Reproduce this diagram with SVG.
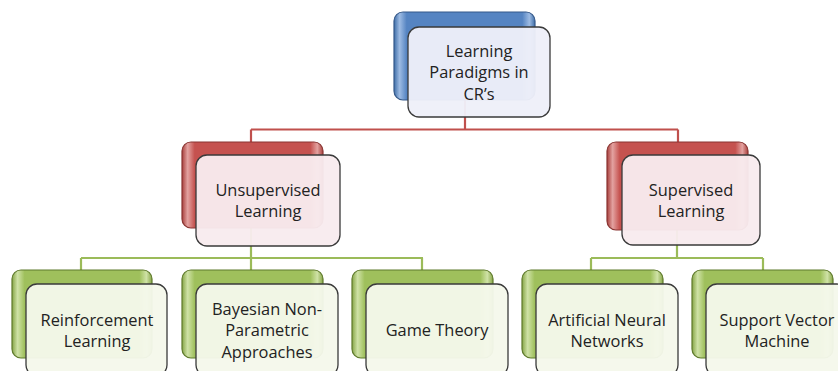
<svg xmlns="http://www.w3.org/2000/svg" width="838" height="371" viewBox="0 0 838 371">
<defs>
<linearGradient id="gBlue" x1="0" y1="0" x2="1" y2="0">
<stop offset="0" stop-color="#3f6ea8"/><stop offset="0.04" stop-color="#9dbbe3"/><stop offset="0.09" stop-color="#5584c2"/><stop offset="0.91" stop-color="#5584c2"/><stop offset="0.96" stop-color="#9dbbe3"/><stop offset="1" stop-color="#3f6ea8"/>
</linearGradient>
<linearGradient id="gRed" x1="0" y1="0" x2="1" y2="0">
<stop offset="0" stop-color="#a83f3c"/><stop offset="0.04" stop-color="#e3a2a0"/><stop offset="0.09" stop-color="#c5524f"/><stop offset="0.91" stop-color="#c5524f"/><stop offset="0.96" stop-color="#e3a2a0"/><stop offset="1" stop-color="#a83f3c"/>
</linearGradient>
<linearGradient id="gGreen" x1="0" y1="0" x2="1" y2="0">
<stop offset="0" stop-color="#86a546"/><stop offset="0.04" stop-color="#cfe2a6"/><stop offset="0.09" stop-color="#9fc05c"/><stop offset="0.91" stop-color="#9fc05c"/><stop offset="0.96" stop-color="#cfe2a6"/><stop offset="1" stop-color="#86a546"/>
</linearGradient>
</defs>
<style>
.back{stroke-width:1.2}
.bb{fill:url(#gBlue);stroke:#35598a}
.br{fill:url(#gRed);stroke:#8a3532}
.bg{fill:url(#gGreen);stroke:#5f7a2c}
.front{stroke:#3a3a3a;stroke-width:1.3;fill-opacity:0.96}
.fb{fill:#eeeff9}
.fr{fill:#f8ebee}
.fg{fill:#f5f8eb}
.lbl{font-family:"Open Sans","Liberation Sans",sans-serif;font-size:16.4px;fill:#222;text-anchor:middle}
.cr{fill:none;stroke:#c0504d;stroke-width:2.2}
.cg{fill:none;stroke:#9bbb59;stroke-width:2.2}
</style>
<g id="connectors">
<path class="cr" d="M465,100 V129.5 M251,129.5 H678 M251,129.5 V142 M678,129.5 V142"/>
<path class="cg" d="M251,228 V258 M81,258 H423 M81,258 V270 M251,258 V270 M422,258 V270"/>
<path class="cg" d="M677,230 V258 M591,258 H763 M591,258 V270 M763,258 V270"/>
</g>
<g id="n-root">
<rect class="back bb" x="394" y="12" width="141" height="88" rx="9"/>
<rect class="front fb" x="408" y="27" width="142" height="90" rx="11"/>
<text class="lbl" x="479" y="56.5">Learning</text>
<text class="lbl" x="479" y="78">Paradigms in</text>
<text class="lbl" x="479" y="99.5">CR’s</text>
</g>
<g id="n-unsup">
<rect class="back br" x="182" y="142" width="141" height="86" rx="9"/>
<rect class="front fr" x="196" y="155" width="144" height="91" rx="11"/>
<text class="lbl" x="268" y="195.5">Unsupervised</text>
<text class="lbl" x="268" y="217">Learning</text>
</g>
<g id="n-sup">
<rect class="back br" x="607" y="142" width="141" height="88" rx="9"/>
<rect class="front fr" x="622" y="155" width="138" height="90" rx="11"/>
<text class="lbl" x="691" y="195.5">Supervised</text>
<text class="lbl" x="691" y="217">Learning</text>
</g>
<g id="n-rl">
<rect class="back bg" x="12" y="270" width="140" height="88" rx="9"/>
<rect class="front fg" x="26" y="284" width="141" height="92" rx="11"/>
<text class="lbl" x="97" y="325.5">Reinforcement</text>
<text class="lbl" x="97" y="347">Learning</text>
</g>
<g id="n-bayes">
<rect class="back bg" x="182" y="270" width="141" height="88" rx="9"/>
<rect class="front fg" x="196" y="284" width="142" height="92" rx="11"/>
<text class="lbl" x="267" y="314.5">Bayesian Non-</text>
<text class="lbl" x="267" y="336">Parametric</text>
<text class="lbl" x="267" y="357.5">Approaches</text>
</g>
<g id="n-game">
<rect class="back bg" x="352" y="270" width="141" height="88" rx="9"/>
<rect class="front fg" x="366" y="284" width="142" height="92" rx="11"/>
<text class="lbl" x="437" y="336">Game Theory</text>
</g>
<g id="n-ann">
<rect class="back bg" x="522" y="270" width="141" height="88" rx="9"/>
<rect class="front fg" x="536" y="284" width="142" height="92" rx="11"/>
<text class="lbl" x="607" y="325.5">Artificial Neural</text>
<text class="lbl" x="607" y="347">Networks</text>
</g>
<g id="n-svm">
<rect class="back bg" x="692" y="270" width="141" height="88" rx="9"/>
<rect class="front fg" x="706" y="284" width="142" height="92" rx="11"/>
<text class="lbl" x="777" y="325.5">Support Vector</text>
<text class="lbl" x="777" y="347">Machine</text>
</g>
</svg>
